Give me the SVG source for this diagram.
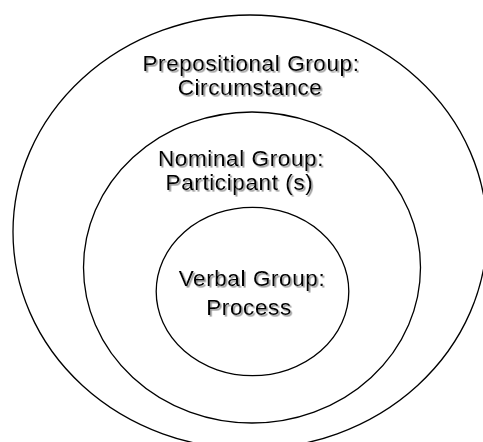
<svg xmlns="http://www.w3.org/2000/svg" width="483" height="442" viewBox="0 0 483 442">
  <defs>
    <filter id="shadow" x="-10%" y="-30%" width="120%" height="160%">
      <feDropShadow dx="1.6" dy="1.6" stdDeviation="0.6" flood-color="#8a8a8a" flood-opacity="0.9"/>
    </filter>
  </defs>
  <style>
    .ring { fill: #ffffff; stroke: #000000; stroke-width: 1.3; }
    .label { font-family: "Liberation Sans", Arial, sans-serif; font-size: 22.5px; letter-spacing: 0.6px; fill: #000000; text-anchor: middle; filter: url(#shadow); }
  </style>
  <rect width="483" height="442" fill="#ffffff"/>

  <!-- outer ring: prepositional group -->
  <g id="prepositional-group">
    <ellipse class="ring" cx="250" cy="232" rx="237" ry="217"/>
    <text class="label" x="251" y="71">Prepositional Group:</text>
    <text class="label" x="250" y="95">Circumstance</text>
  </g>

  <!-- middle ring: nominal group -->
  <g id="nominal-group">
    <ellipse class="ring" cx="252" cy="267.5" rx="168.5" ry="155.5"/>
    <text class="label" x="241" y="166">Nominal Group:</text>
    <text class="label" x="239.5" y="189.5">Participant (s)</text>
  </g>

  <!-- inner ring: verbal group -->
  <g id="verbal-group">
    <ellipse class="ring" cx="252.5" cy="291.5" rx="96.3" ry="84.2"/>
    <text class="label" x="252" y="285.5">Verbal Group:</text>
    <text class="label" x="249" y="314.5">Process</text>
  </g>

  <g id="connectors"/>
</svg>
